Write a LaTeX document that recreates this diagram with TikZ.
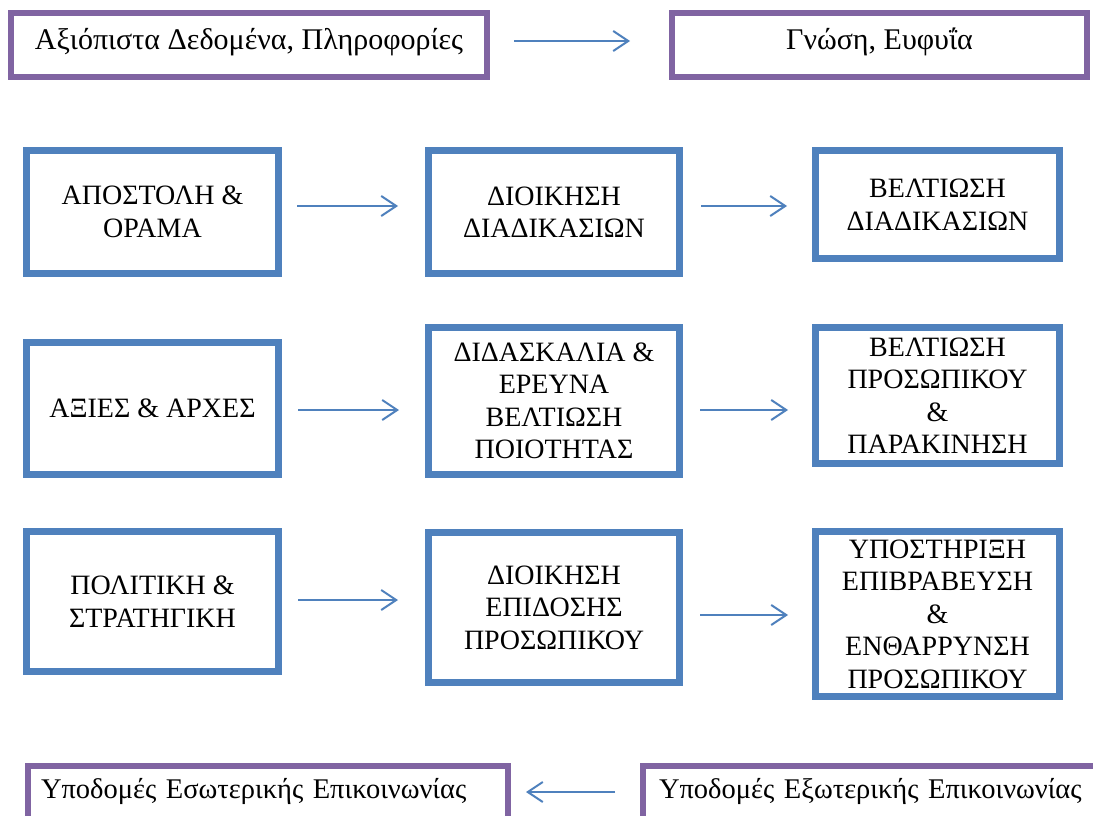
\documentclass[tikz,border=0pt]{standalone}
\usepackage{fontspec}
\setmainfont{Liberation Serif}
\usetikzlibrary{arrows.meta}
\definecolor{boxblue}{HTML}{4F81BD}
\definecolor{boxpurple}{HTML}{8064A2}
\begin{document}
\begin{tikzpicture}[x=1pt,y=-1pt,
  bluebox/.style={draw=boxblue, line width=7pt, inner sep=0pt, align=center,
    font=\fontsize{28}{32.5}\selectfont},
  purplebox/.style={draw=boxpurple, line width=6pt, inner ysep=0pt,
    font=\fontsize{30}{34}\selectfont},
  basebox/.style={draw=boxpurple, line width=6pt, inner ysep=0pt, anchor=north west,
    align=left, font=\fontsize{28.5}{32}\selectfont},
  flow/.style={draw=boxblue, line width=2pt,
    -{Straight Barb[length=15pt,width=20pt,line width=2pt]}}]
\clip (0,0) rectangle (1093,816);
\fill[white] (0,0) rectangle (1093,816);

% top line: data -> knowledge
\node[purplebox, minimum width=476pt, text height=37pt, text depth=27pt] (data) at (249,45)
  {Αξιόπιστα Δεδομένα, Πληροφορίες};
\node[purplebox, minimum width=415pt, text height=37pt, text depth=27pt] (know) at (879.5,45)
  {Γνώση, Ευφυΐα};

% three rows of blue boxes
\node[bluebox, minimum width=252pt, minimum height=123pt] (b11) at (152.5,212)
  {ΑΠΟΣΤΟΛΗ \&\\ΟΡΑΜΑ};
\node[bluebox, minimum width=251pt, minimum height=123pt] (b12) at (554,212)
  {ΔΙΟΙΚΗΣΗ\\ΔΙΑΔΙΚΑΣΙΩΝ};
\node[bluebox, minimum width=244pt, minimum height=108pt] (b13) at (937.5,204.5)
  {ΒΕΛΤΙΩΣΗ\\ΔΙΑΔΙΚΑΣΙΩΝ};

\node[bluebox, minimum width=252pt, minimum height=132pt] (b21) at (152.5,408.5)
  {ΑΞΙΕΣ \& ΑΡΧΕΣ};
\node[bluebox, minimum width=251pt, minimum height=147pt] (b22) at (554,401)
  {ΔΙΔΑΣΚΑΛΙΑ \&\\ΕΡΕΥΝΑ\\ΒΕΛΤΙΩΣΗ\\ΠΟΙΟΤΗΤΑΣ};
\node[bluebox, minimum width=244pt, minimum height=136pt] (b23) at (937.5,395.5)
  {ΒΕΛΤΙΩΣΗ\\ΠΡΟΣΩΠΙΚΟΥ\\\&\\ΠΑΡΑΚΙΝΗΣΗ};

\node[bluebox, minimum width=252pt, minimum height=140pt] (b31) at (152.5,601.5)
  {ΠΟΛΙΤΙΚΗ \&\\ΣΤΡΑΤΗΓΙΚΗ};
\node[bluebox, minimum width=251pt, minimum height=150pt] (b32) at (554,607.5)
  {ΔΙΟΙΚΗΣΗ\\ΕΠΙΔΟΣΗΣ\\ΠΡΟΣΩΠΙΚΟΥ};
\node[bluebox, minimum width=244pt, minimum height=165pt] (b33) at (937.5,614)
  {ΥΠΟΣΤΗΡΙΞΗ\\ΕΠΙΒΡΑΒΕΥΣΗ\\\&\\ΕΝΘΑΡΡΥΝΣΗ\\ΠΡΟΣΩΠΙΚΟΥ};

% bottom line: communication infrastructure
\node[basebox, text width=454pt, inner xsep=13pt, text height=32pt, text depth=40pt] (intcom) at (25,763)
  {Υποδομές Εσωτερικής Επικοινωνίας};
\node[basebox, text width=440pt, inner xsep=16pt, text height=32pt, text depth=40pt] (extcom) at (640,763)
  {Υποδομές Εξωτερικής Επικοινωνίας};

% arrow heights
\coordinate (ytop) at (0,41);
\coordinate (y1) at (0,206);
\coordinate (y2) at (0,410);
\coordinate (y3a) at (0,600);
\coordinate (y3b) at (0,615);
\coordinate (ybot) at (0,792);

\draw[flow, shorten <=24pt, shorten >=39pt] (data.east |- ytop) -- (know.west |- ytop);
\draw[flow, shorten <=15pt, shorten >=27pt] (b11.east |- y1) -- (b12.west |- y1);
\draw[flow, shorten <=18pt, shorten >=25pt] (b12.east |- y1) -- (b13.west |- y1);
\draw[flow, shorten <=16pt, shorten >=26pt] (b21.east |- y2) -- (b22.west |- y2);
\draw[flow, shorten <=17pt, shorten >=24pt] (b22.east |- y2) -- (b23.west |- y2);
\draw[flow, shorten <=16pt, shorten >=27pt] (b31.east |- y3a) -- (b32.west |- y3a);
\draw[flow, shorten <=17pt, shorten >=24pt] (b32.east |- y3b) -- (b33.west |- y3b);
\draw[flow, shorten <=25pt, shorten >=15pt] (extcom.west |- ybot) -- (intcom.east |- ybot);
\end{tikzpicture}
\end{document}
